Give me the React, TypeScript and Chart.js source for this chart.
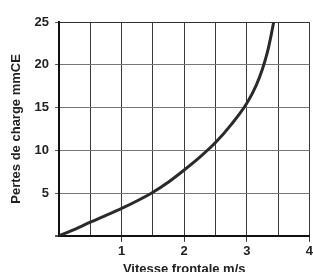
import React, { useEffect, useRef } from "react";
import { Chart, registerables } from "chart.js";

Chart.register(...registerables);

const vitesse = [0, 0.25, 0.5, 0.75, 1, 1.25, 1.5, 1.75, 2, 2.25, 2.5, 2.75, 3, 3.15, 3.25, 3.33, 3.39, 3.43];
const pertes = [0, 0.75, 1.6, 2.4, 3.2, 4.1, 5.1, 6.3, 7.7, 9.2, 10.9, 13.0, 15.5, 17.6, 19.5, 21.5, 23.5, 25];
const xTicks = [1, 2, 3, 4];
const yTicks = [5, 10, 15, 20, 25];

export default function App() {
  const ref = useRef<HTMLCanvasElement>(null);
  useEffect(() => {
    document.body.style.margin = "0";
    const ctx = ref.current!;
    const font = { family: "Liberation Sans, Arial, sans-serif", size: 13, weight: "bold" as const };
    const chart = new Chart(ctx, {
      type: "line",
      data: {
        datasets: [
          {
            data: vitesse.map((v, i) => ({ x: v, y: pertes[i] })),
            borderColor: "#2a2a2a",
            borderWidth: 3,
            pointRadius: 0,
            cubicInterpolationMode: "monotone",
            fill: false,
          },
        ],
      },
      options: {
        animation: false,
        responsive: false,
        maintainAspectRatio: false,
        layout: { padding: { left: 9, right: 0, top: 22, bottom: 0 } },
        plugins: { legend: { display: false }, tooltip: { enabled: false } },
        scales: {
          x: {
            type: "linear",
            min: 0,
            max: 4,
            ticks: {
              stepSize: 0.5,
              color: "#222",
              font,
              padding: 2,
              callback: (v: any) => (xTicks.includes(Number(v)) ? String(v) : ""),
            },
            grid: {
              color: (c: any) => (c.tick && c.tick.value === 0 ? "#111" : "#3a3a3a"),
              lineWidth: (c: any) => (c.tick && c.tick.value === 0 ? 2 : 1),
              tickLength: 6,
              tickColor: (c: any) => (c.tick && xTicks.includes(c.tick.value) ? "#333" : "rgba(0,0,0,0)"),
            },
            border: { color: "#111", width: 2 },
            title: { display: true, text: "Vitesse frontale m/s", color: "#222", font, padding: { top: 0, bottom: 0 } },
          },
          y: {
            type: "linear",
            min: 0,
            max: 25,
            ticks: {
              stepSize: 5,
              color: "#222",
              font,
              padding: 6,
              callback: (v: any) => (yTicks.includes(Number(v)) ? String(v) : ""),
            },
            grid: {
              color: (c: any) => (c.tick && c.tick.value === 25 ? "#333" : "#777"),
              lineWidth: (c: any) => (c.tick && c.tick.value === 0 ? 2 : 1),
              tickLength: 4,
              tickColor: "#555",
            },
            border: { color: "#111", width: 2 },
            title: { display: true, text: "Pertes de charge mmCE", color: "#222", font, padding: { top: 0, bottom: 4 } },
          },
        },
      },
    });
    return () => chart.destroy();
  }, []);
  return (
    <div style={{ width: 313, height: 272, overflow: "hidden", background: "#fff" }}>
      <canvas ref={ref} width={315} height={277} style={{ display: "block" }} />
    </div>
  );
}
